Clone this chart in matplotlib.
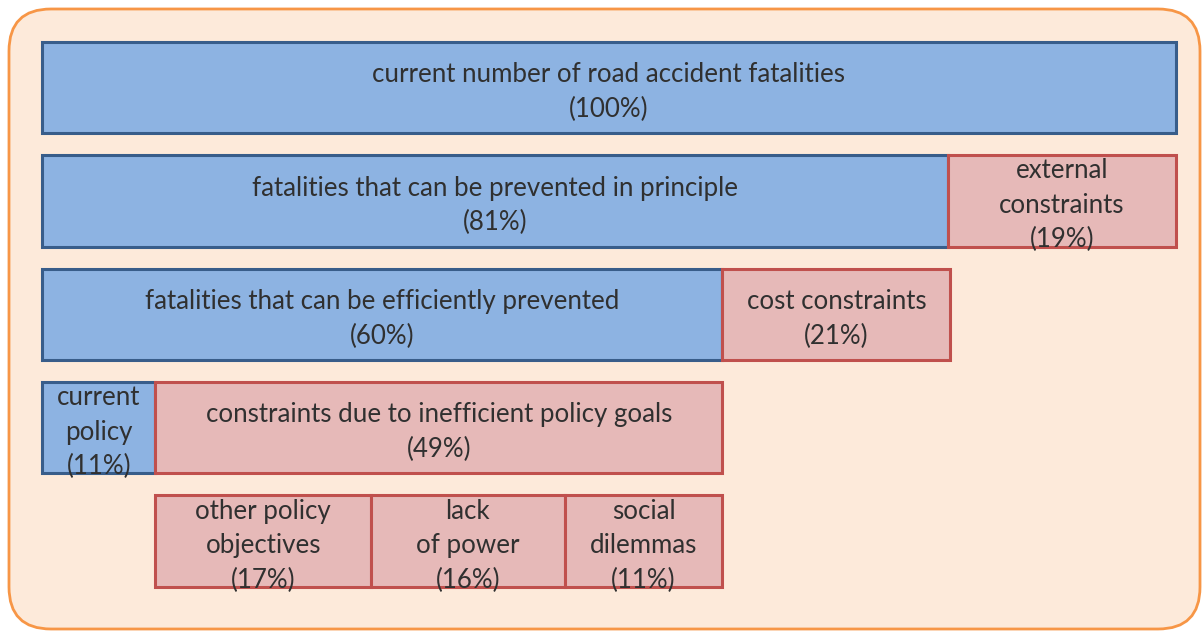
import matplotlib.pyplot as plt
from matplotlib.patches import FancyBboxPatch

# segments per row: row, start %, width %, kind
rows = [0, 1, 1, 2, 2, 3, 3, 4, 4, 4]
starts = [0, 0, 79.9, 0, 60, 0, 10, 10, 29.0, 46.1]
widths = [100, 79.9, 20.1, 60, 20.1, 10, 50, 19.0, 17.1, 13.9]
kinds = ['fatal', 'fatal', 'constraint', 'fatal', 'constraint',
         'fatal', 'constraint', 'constraint', 'constraint', 'constraint']
labels = [
    'current number of road accident fatalities\n(100%)',
    'fatalities that can be prevented in principle\n(81%)',
    'external\nconstraints\n(19%)',
    'fatalities that can be efficiently prevented\n(60%)',
    'cost constraints\n(21%)',
    'current\npolicy\n(11%)',
    'constraints due to inefficient policy goals\n(49%)',
    'other policy\nobjectives\n(17%)',
    'lack\nof power\n(16%)',
    'social\ndilemmas\n(11%)',
]

fills = {'fatal': '#8DB3E2', 'constraint': '#E6B9B8'}
edges = {'fatal': '#385D8A', 'constraint': '#C0504D'}

W, H = 1204, 631
fig = plt.figure(figsize=(W / 100, H / 100), dpi=100)
fig.patch.set_facecolor('white')

# rounded background panel, drawn in a pixel-unit axes
bg = fig.add_axes([0, 0, 1, 1], zorder=0)
bg.set_xlim(0, W)
bg.set_ylim(H, 0)
bg.axis('off')
bg.add_patch(FancyBboxPatch((9, 9), 1191, 620,
                            boxstyle='round,pad=0,rounding_size=42',
                            facecolor='#FDEADA', edgecolor='#F79646',
                            linewidth=2))

ax = fig.add_axes([42 / W, 0, (1176 - 42) / W, 1], zorder=1)
ax.set_xlim(0, 100)
ax.set_ylim(4.793, -0.772)
ax.axis('off')

for r, s, w, k, lab in zip(rows, starts, widths, kinds, labels):
    ax.barh(r, w, left=s, height=0.805, color=fills[k],
            edgecolor=edges[k], linewidth=2.2, clip_on=False)
    ax.text(s + w / 2, r + 0.04, lab, ha='center', va='center',
            fontsize=18.6, family='Lato', color='#303030', linespacing=1.47)

fig.savefig('out.png', dpi=100)
